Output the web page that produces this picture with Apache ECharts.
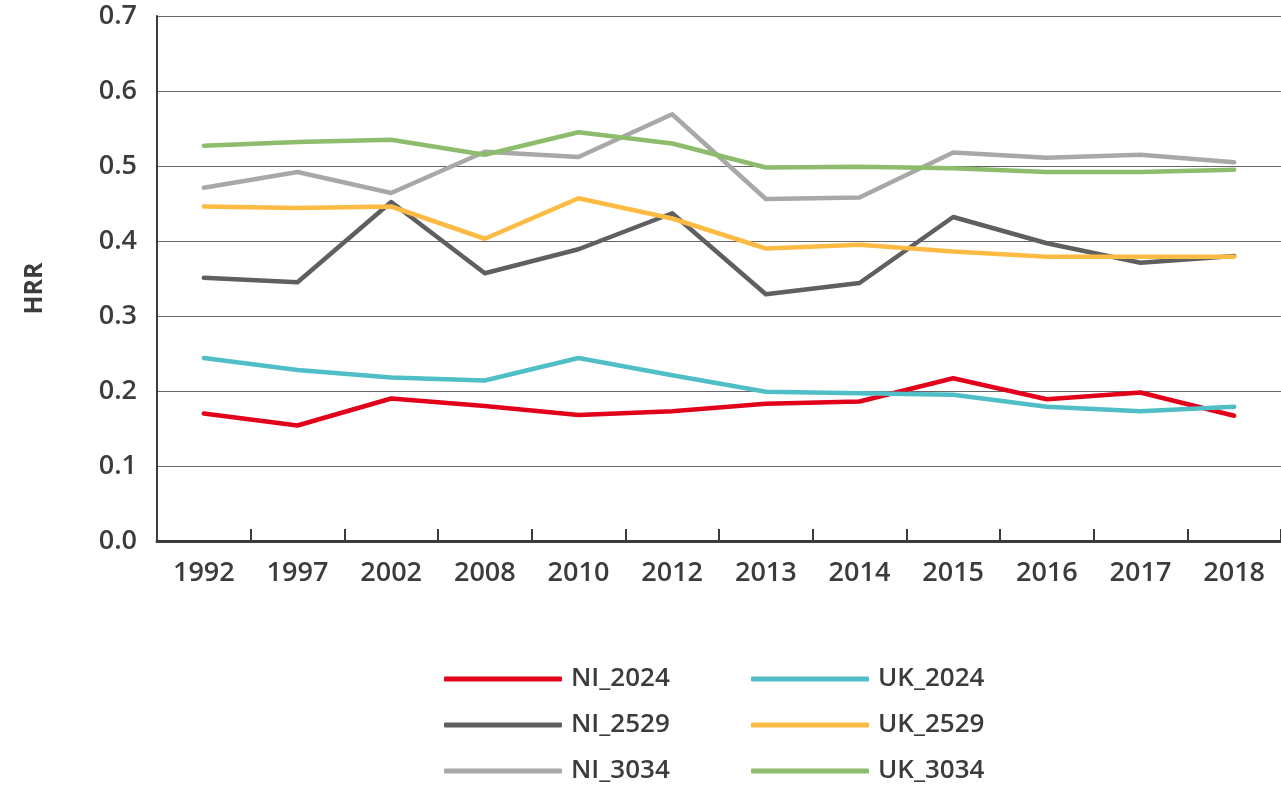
<!DOCTYPE html>
<html>
<head>
<meta charset="utf-8">
<script src="https://cdn.jsdelivr.net/npm/echarts@6/dist/echarts.min.js"></script>
<style>html,body{margin:0;padding:0;background:#fff;}#c{width:1281px;height:785px;}</style>
</head>
<body>
<div id="c"></div>
<script>
const categories = ['1992','1997','2002','2008','2010','2012','2013','2014','2015','2016','2017','2018'];
const NI_2024 = [0.170,0.154,0.190,0.180,0.168,0.173,0.183,0.186,0.217,0.189,0.198,0.167];
const NI_2529 = [0.351,0.345,0.452,0.357,0.389,0.437,0.329,0.344,0.432,0.397,0.371,0.380];
const NI_3034 = [0.471,0.492,0.464,0.519,0.512,0.569,0.456,0.458,0.518,0.511,0.515,0.505];
const UK_2024 = [0.244,0.228,0.218,0.214,0.244,0.221,0.199,0.197,0.195,0.179,0.173,0.179];
const UK_2529 = [0.446,0.444,0.446,0.403,0.457,0.430,0.390,0.395,0.386,0.379,0.379,0.379];
const UK_3034 = [0.527,0.532,0.535,0.515,0.545,0.530,0.498,0.499,0.497,0.492,0.492,0.495];

const FONT = '"Open Sans", "DejaVu Sans", sans-serif';
const chart = echarts.init(document.getElementById('c'));
function s(name, data, color) {
  return {name, type:'line', data, symbol:'none', lineStyle:{color, width:4.5, cap:'round', join:'round'}, itemStyle:{color}, animation:false};
}
const legendCommon = {
  orient:'vertical', icon:'roundRect', itemWidth:118, itemHeight:5, itemGap:16, height:150,
  textStyle:{fontFamily:FONT, fontSize:26, fontWeight:600, color:'#3c3c3c', lineHeight:30, padding:[0,0,0,4]}
};
chart.setOption({
  animation:false,
  grid:{left:157, top:16, width:1128, height:525},
  legend:[
    Object.assign({left:439, top:659, data:['NI_2024','NI_2529','NI_3034']}, legendCommon),
    Object.assign({left:746, top:659, data:['UK_2024','UK_2529','UK_3034']}, legendCommon)
  ],
  xAxis:{
    type:'category', data:categories, boundaryGap:true,
    axisLine:{lineStyle:{color:'#3c3c3c', width:3}},
    axisTick:{show:true, interval:0, inside:true, length:12, lineStyle:{color:'#3c3c3c', width:2}},
    axisLabel:{fontFamily:FONT, fontSize:27, fontWeight:600, color:'#3c3c3c', margin:19}
  },
  yAxis:{
    type:'value', min:0, max:0.7, interval:0.1,
    name:'HRR', nameLocation:'middle', nameGap:110, nameRotate:90,
    nameTextStyle:{fontFamily:FONT, fontSize:25, fontWeight:700, color:'#3c3c3c', padding:[0,0,0,-20]},
    axisLine:{show:true, lineStyle:{color:'#3c3c3c', width:2}},
    axisTick:{show:false},
    axisLabel:{fontFamily:FONT, fontSize:27, fontWeight:600, color:'#3c3c3c', margin:20, formatter:v=>v.toFixed(1)},
    splitLine:{lineStyle:{color:'#666', width:1}}
  },
  series:[
    s('NI_2024', NI_2024, '#e2001a'),
    s('NI_2529', NI_2529, '#5f5f5f'),
    s('NI_3034', NI_3034, '#a8a8a6'),
    s('UK_2024', UK_2024, '#4fbec6'),
    s('UK_2529', UK_2529, '#fdbb43'),
    s('UK_3034', UK_3034, '#8cbc6c')
  ]
});
</script>
</body>
</html>
